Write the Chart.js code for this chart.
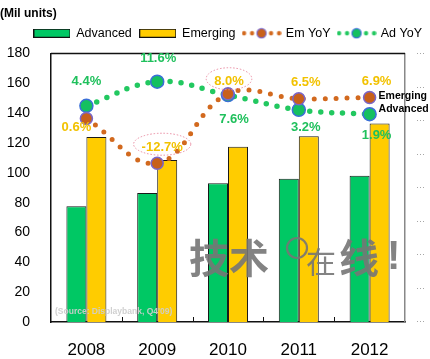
<!DOCTYPE html>
<html><head><meta charset="utf-8">
<script src="https://cdn.jsdelivr.net/npm/chart.js@4.4.1/dist/chart.umd.min.js"></script>
<style>html,body{margin:0;padding:0;background:#fff;}</style>
</head><body>
<canvas id="c" width="430" height="359"></canvas>
<script>
// ---- data ----
const years = ['2008', '2009', '2010', '2011', '2012'];
const advanced = [77.5, 86.5, 93, 96, 98];
const emerging = [124, 108.5, 117.5, 124.5, 133];
const emYoY = [0.6, -12.7, 8.0, 6.5, 6.9];
const adYoY = [4.4, 11.6, 7.6, 3.2, 1.9];
const unitTicks = { min: 0, max: 180, step: 20 };
const yoyTicks = { min: -60, max: 20, step: 10 };
const seriesNames = ['Advanced', 'Emerging', 'Em YoY', 'Ad YoY'];
const endLabels = ['Emerging', 'Advanced'];
const titleText = '(Mil units)';
const sourceText = "(Source: Displaybank, Q4'09)";

// ---- styles ----
const F = "'Liberation Sans', Arial, sans-serif";
const FN = "'Liberation Sans Narrow', 'Liberation Sans', Arial, sans-serif";
const GREEN = '#00c864', YELLOW = '#ffcc00';
const EM_DOT = '#d2691e', AD_DOT = '#22c860';
const EM_PT = '#c8601a', EM_PT_B = '#7a66c8', AD_PT = '#14c060', AD_PT_B = '#3a6fd8';
const EM_TXT = '#f2c200', AD_TXT = '#1fc05c';
const emOff = [[-10, 9], [5, -16], [1, -12], [7, -16], [7, -16]];
const adOff = [[0, -24], [1, -23], [6, 24], [7, 18], [7, 21]];
const circledEm = [1, 2];

function barIcon(color) {
  const c = document.createElement('canvas'); c.width = 37; c.height = 9;
  const g = c.getContext('2d');
  g.fillStyle = color; g.fillRect(0.5, 0.5, 36, 8);
  g.strokeStyle = '#111'; g.lineWidth = 1; g.strokeRect(0.5, 0.5, 36, 8);
  return c;
}
function dotIcon(dot, big, bigB) {
  const c = document.createElement('canvas'); c.width = 40; c.height = 12;
  const g = c.getContext('2d');
  g.fillStyle = dot;
  [2.5, 10.5, 29.5, 37.5].forEach(x => { g.beginPath(); g.arc(x, 6, 2.2, 0, Math.PI * 2); g.fill(); });
  g.beginPath(); g.arc(20, 6, 4.6, 0, Math.PI * 2); g.fillStyle = big; g.fill();
  g.strokeStyle = bigB; g.lineWidth = 1.2; g.stroke();
  return c;
}
const legendIcons = [barIcon(GREEN), barIcon(YELLOW), dotIcon(EM_DOT, EM_PT, EM_PT_B), dotIcon(AD_DOT, AD_PT, AD_PT_B)];

const legendSpacer = {
  id: 'legendSpacer',
  beforeLayout(chart) {
    const lg = chart.legend;
    if (lg && !lg._sp) {
      const fit = lg.fit;
      lg.fit = function () { fit.apply(this, arguments); this.height += 4; };
      lg._sp = true;
    }
  }
};

const decor = {
  id: 'decor',
  beforeDatasetsDraw(chart) {
    const { ctx, chartArea: a, scales: { x } } = chart;
    ctx.save();
    ctx.strokeStyle = '#111'; ctx.lineWidth = 1.5;
    ctx.beginPath(); ctx.moveTo(a.left, a.top); ctx.lineTo(a.right, a.top); ctx.stroke();
    ctx.lineWidth = 1;
    for (let i = 0; i < years.length - 1; i++) {
      const bx = Math.round((x.getPixelForValue(i) + x.getPixelForValue(i + 1)) / 2) + 0.5;
      ctx.beginPath(); ctx.moveTo(bx, a.bottom); ctx.lineTo(bx, a.bottom - 5); ctx.stroke();
    }
    ctx.restore();
  },
  afterDatasetsDraw(chart) {
    const { ctx, chartArea: a } = chart;
    ctx.save();
    // source note
    ctx.font = 'bold 8.5px ' + F; ctx.fillStyle = 'rgba(205,205,205,0.95)';
    ctx.textAlign = 'left'; ctx.textBaseline = 'middle';
    ctx.fillText(sourceText, a.left + 4, a.bottom - 10);

    const emMeta = chart.getDatasetMeta(0), adMeta = chart.getDatasetMeta(1);
    ctx.font = 'bold 13px ' + F; ctx.textAlign = 'center';
    emYoY.forEach((v, i) => {
      const p = emMeta.data[i];
      const tx = p.x + emOff[i][0], ty = p.y + emOff[i][1];
      const t = v.toFixed(1) + '%';
      ctx.fillStyle = EM_TXT; ctx.fillText(t, tx, ty);
      if (circledEm.includes(i)) {
        const w = ctx.measureText(t).width;
        ctx.save();
        ctx.strokeStyle = '#e88aa0'; ctx.lineWidth = 1; ctx.setLineDash([1.5, 1.8]);
        ctx.beginPath(); ctx.ellipse(tx, ty - 3, w / 2 + 8, 11, 0, 0, Math.PI * 2); ctx.stroke();
        ctx.restore();
      }
    });
    adYoY.forEach((v, i) => {
      const p = adMeta.data[i];
      ctx.fillStyle = AD_TXT;
      ctx.fillText(v.toFixed(1) + '%', p.x + adOff[i][0], p.y + adOff[i][1]);
    });
    // end labels
    ctx.font = 'bold 10.5px ' + F; ctx.fillStyle = '#000'; ctx.textAlign = 'left';
    const le = emMeta.data[emMeta.data.length - 1], la = adMeta.data[adMeta.data.length - 1];
    ctx.fillText(endLabels[0], le.x + 9, le.y - 1);
    ctx.fillText(endLabels[1], la.x + 9, la.y - 5);
    ctx.restore();
  },
  afterDraw(chart) {
    const { ctx, chartArea: a } = chart;
    ctx.save();
    ctx.fillStyle = 'rgba(118,118,118,0.9)'; ctx.strokeStyle = 'rgba(118,118,118,0.9)';
    ctx.textBaseline = 'middle'; ctx.textAlign = 'left';
    const cx = a.left + 138, cy = a.bottom - 64;
    ctx.font = "bold 40px 'Noto Sans CJK SC', sans-serif";
    ctx.fillText('技术', cx, cy);
    ctx.lineWidth = 2.2;
    ctx.beginPath(); ctx.arc(cx + 108, cy - 10, 10, 0, Math.PI * 2); ctx.stroke();
    ctx.font = "30px 'Noto Sans CJK SC', sans-serif";
    ctx.fillText('在', cx + 117, cy + 4);
    ctx.font = "bold 40px 'Noto Sans CJK SC', sans-serif";
    ctx.fillText('线', cx + 150, cy);
    ctx.font = "bold 40px " + F;
    ctx.fillText('!', cx + 198, cy);
    ctx.restore();
  }
};

new Chart(document.getElementById('c'), {
  type: 'bar',
  data: {
    labels: years,
    datasets: [
      { type: 'line', label: seriesNames[2], data: emYoY, yAxisID: 'y1', order: 0,
        borderColor: EM_DOT, borderWidth: 5, borderDash: [0, 11], borderCapStyle: 'round',
        tension: 0.4, fill: false, pointRadius: 6, pointBackgroundColor: EM_PT,
        pointBorderColor: EM_PT_B, pointBorderWidth: 1.5 },
      { type: 'line', label: seriesNames[3], data: adYoY, yAxisID: 'y1', order: 0,
        borderColor: AD_DOT, borderWidth: 5.5, borderDash: [0, 11], borderCapStyle: 'round',
        tension: 0.4, fill: false, pointRadius: 6.5, pointBackgroundColor: AD_PT,
        pointBorderColor: AD_PT_B, pointBorderWidth: 1.5 },
      { label: seriesNames[0], data: advanced, yAxisID: 'y', order: 2,
        backgroundColor: GREEN, borderColor: '#1a1a1a', borderWidth: 1,
        barPercentage: 1, categoryPercentage: 0.565 },
      { label: seriesNames[1], data: emerging, yAxisID: 'y', order: 2,
        backgroundColor: YELLOW, borderColor: '#1a1a1a', borderWidth: 1,
        barPercentage: 1, categoryPercentage: 0.565 }
    ]
  },
  options: {
    responsive: false, animation: false, devicePixelRatio: 1,
    layout: { padding: 0 },
    plugins: {
      title: { display: true, text: titleText, align: 'start', color: '#000',
        font: { family: F, size: 12, weight: 'bold' }, padding: { top: 6, bottom: -1.45 } },
      legend: { display: true, align: 'end',
        labels: { usePointStyle: true, pointStyleWidth: 36, padding: 8, color: '#000',
          font: { family: F, size: 12.5 },
          generateLabels: () => legendIcons.map((ic, i) => ({
            text: seriesNames[i], pointStyle: ic, fillStyle: 'rgba(0,0,0,0)',
            strokeStyle: 'rgba(0,0,0,0)', lineWidth: 0, hidden: false, datasetIndex: i, fontColor: '#000'
          })) } },
      tooltip: { enabled: false }
    },
    scales: {
      x: { grid: { display: false }, border: { display: true, color: '#111', width: 1.5 },
        ticks: { color: '#000', font: { family: FN, size: 17 }, padding: 10 },
        afterFit(s) { s.height = 37; } },
      y: { position: 'left', min: unitTicks.min, max: unitTicks.max,
        ticks: { stepSize: unitTicks.step, color: '#000', font: { family: F, size: 14 }, padding: 13 },
        grid: { display: false }, border: { display: true, color: '#111', width: 1.5 },
        afterFit(s) { s.width = 51; } },
      y1: { position: 'right', min: yoyTicks.min, max: yoyTicks.max,
        ticks: { stepSize: yoyTicks.step, callback: () => '···', color: '#999', font: { family: F, size: 9 }, padding: 3 },
        grid: { display: false }, border: { display: true, color: '#888', width: 1.5 },
        afterFit(s) { s.width = 25; } }
    }
  },
  plugins: [legendSpacer, decor]
});
</script>
</body></html>
